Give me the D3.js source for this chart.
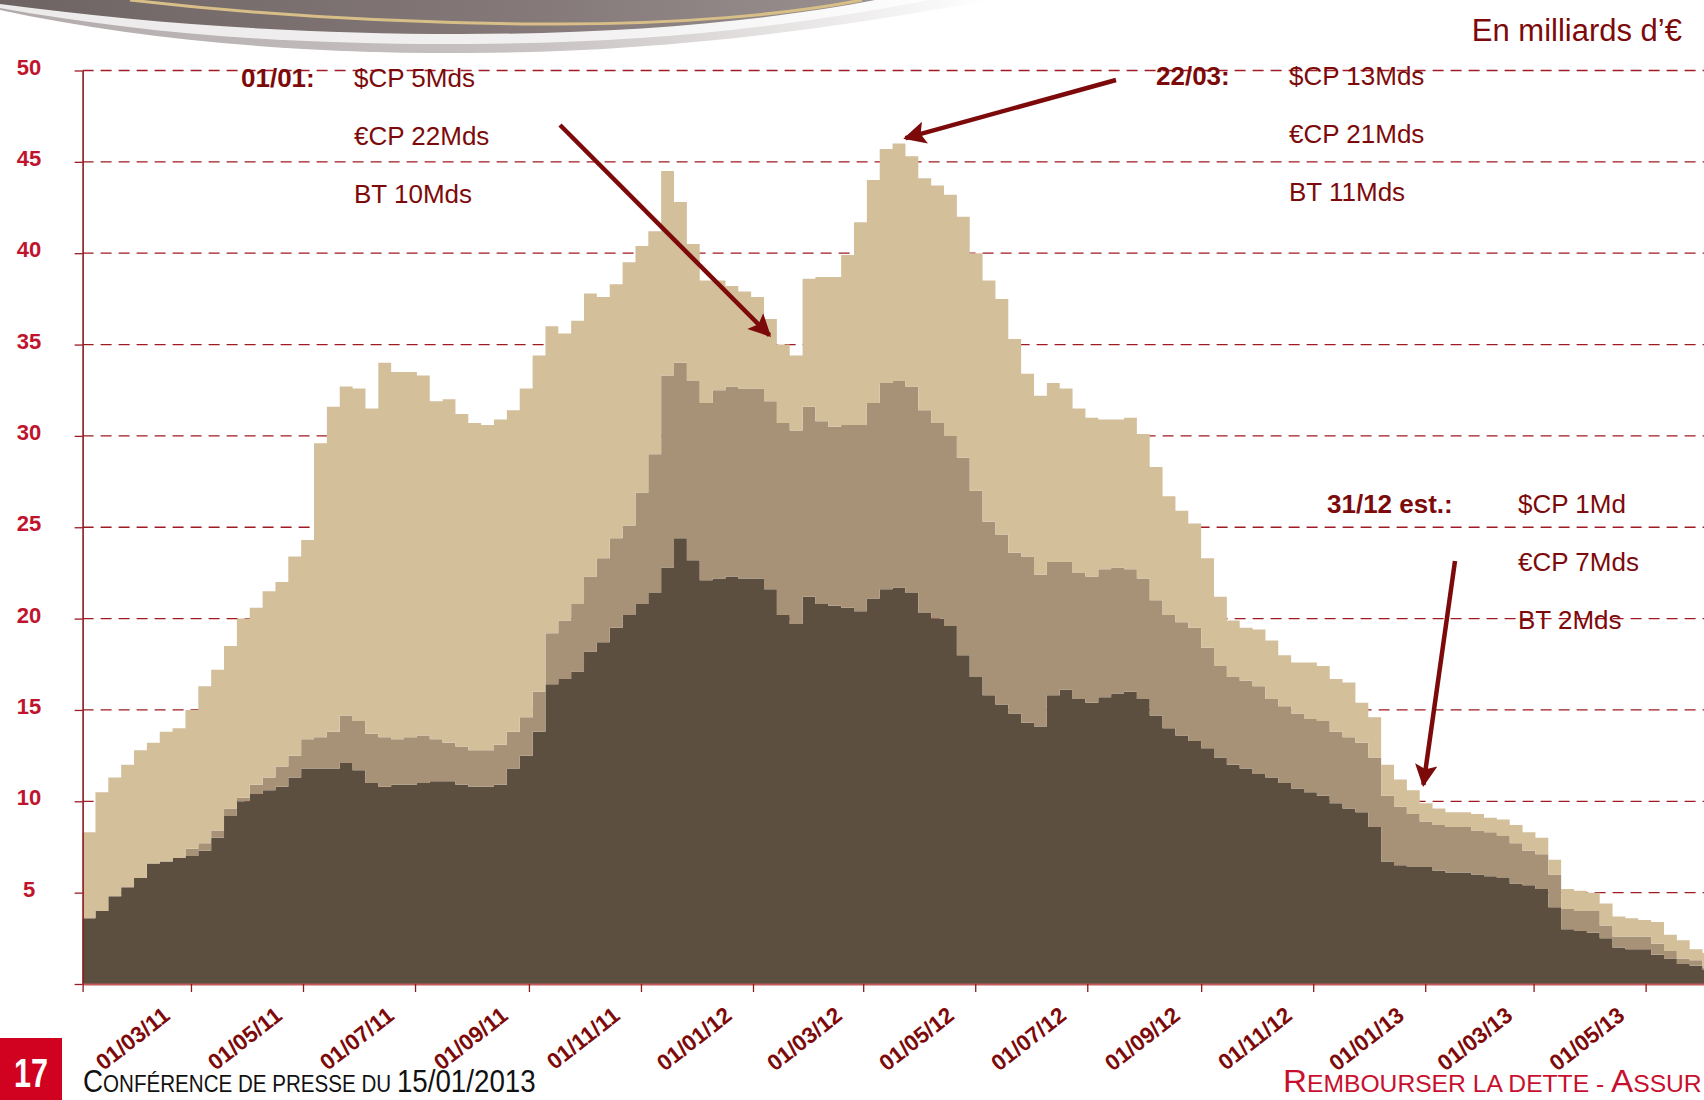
<!DOCTYPE html>
<html>
<head>
<meta charset="utf-8">
<script src="https://cdn.jsdelivr.net/npm/d3@7"></script>
<style>
  body { margin: 0; background: #fff; }
  svg { display: block; }
  text { font-family: "Liberation Sans", Arial, sans-serif; }
</style>
</head>
<body>
<svg id="chart" width="1704" height="1100"></svg>
<script>
// weekly outstanding amounts (billions of euros)
const weeks = [
  "2011-01-01","2011-01-08","2011-01-15","2011-01-22","2011-01-29","2011-02-05","2011-02-12","2011-02-19","2011-02-26","2011-03-05",
  "2011-03-12","2011-03-19","2011-03-26","2011-04-02","2011-04-09","2011-04-16","2011-04-23","2011-04-30","2011-05-07","2011-05-14",
  "2011-05-21","2011-05-28","2011-06-04","2011-06-11","2011-06-18","2011-06-25","2011-07-02","2011-07-09","2011-07-16","2011-07-23",
  "2011-07-30","2011-08-06","2011-08-13","2011-08-20","2011-08-27","2011-09-03","2011-09-10","2011-09-17","2011-09-24","2011-10-01",
  "2011-10-08","2011-10-15","2011-10-22","2011-10-29","2011-11-05","2011-11-12","2011-11-19","2011-11-26","2011-12-03","2011-12-10",
  "2011-12-17","2011-12-24","2011-12-31","2012-01-07","2012-01-14","2012-01-21","2012-01-28","2012-02-04","2012-02-11","2012-02-18",
  "2012-02-25","2012-03-03","2012-03-10","2012-03-17","2012-03-24","2012-03-31","2012-04-07","2012-04-14","2012-04-21","2012-04-28",
  "2012-05-05","2012-05-12","2012-05-19","2012-05-26","2012-06-02","2012-06-09","2012-06-16","2012-06-23","2012-06-30","2012-07-07",
  "2012-07-14","2012-07-21","2012-07-28","2012-08-04","2012-08-11","2012-08-18","2012-08-25","2012-09-01","2012-09-08","2012-09-15",
  "2012-09-22","2012-09-29","2012-10-06","2012-10-13","2012-10-20","2012-10-27","2012-11-03","2012-11-10","2012-11-17","2012-11-24",
  "2012-12-01","2012-12-08","2012-12-15","2012-12-22","2012-12-29","2013-01-05","2013-01-12","2013-01-19","2013-01-26","2013-02-02",
  "2013-02-09","2013-02-16","2013-02-23","2013-03-02","2013-03-09","2013-03-16","2013-03-23","2013-03-30","2013-04-06","2013-04-13",
  "2013-04-20","2013-04-27","2013-05-04","2013-05-11","2013-05-18","2013-05-25","2013-06-01"
];

// €CP (bottom layer)
const euroCP = [
  3.6,4.0,4.8,5.3,5.8,6.6,6.7,6.9,7.0,7.3,
  8.0,9.2,10.0,10.4,10.6,10.8,11.3,11.8,11.8,11.8,
  12.1,11.7,11.0,10.8,10.9,10.9,11.0,11.1,11.1,10.9,
  10.8,10.8,10.9,11.8,12.5,13.8,16.4,16.7,17.1,18.2,
  18.7,19.5,20.2,20.8,21.4,22.8,24.4,23.2,22.1,22.2,
  22.3,22.2,22.2,21.6,20.2,19.7,21.2,20.8,20.7,20.6,
  20.4,21.1,21.6,21.7,21.4,20.3,20.0,19.6,18.0,16.8,
  15.8,15.3,14.8,14.3,14.1,15.8,16.1,15.6,15.4,15.7,
  15.9,16.0,15.6,14.7,14.0,13.6,13.3,12.9,12.4,12.0,
  11.8,11.5,11.3,11.0,10.7,10.5,10.3,9.9,9.6,9.4,
  8.6,6.7,6.5,6.4,6.4,6.2,6.1,6.1,6.0,5.9,
  5.8,5.5,5.4,5.2,4.2,3.0,2.9,2.8,2.5,2.0,
  1.9,1.9,1.6,1.4,1.1,1.0,0.8
];

// BT (middle layer)
const bt = [
  0,0,0,0,0,0,0,0,0.4,0.4,
  0.4,0.4,0.2,0.5,0.7,1.1,1.2,1.6,1.7,2.0,
  2.6,2.7,2.7,2.7,2.5,2.6,2.6,2.3,2.1,2.1,
  2.0,2.0,2.2,2.0,2.1,2.2,2.8,3.2,3.7,4.1,
  4.6,4.9,4.9,6.1,7.6,10.5,9.6,9.8,9.7,10.3,
  10.4,10.4,10.4,10.3,10.5,10.6,10.4,10.0,9.8,10.0,
  10.2,10.7,11.3,11.3,11.3,11.1,10.7,10.4,10.8,10.2,
  9.5,9.3,8.8,9.1,8.3,7.3,7.0,6.9,6.9,7.0,
  6.9,6.7,6.6,6.3,6.2,6.2,6.2,5.5,5.0,4.8,
  4.8,4.8,4.3,4.2,4.1,4.0,4.1,3.9,3.9,3.8,
  3.8,3.6,3.2,2.9,2.5,2.5,2.5,2.5,2.4,2.4,
  2.3,2.2,1.9,1.9,1.8,1.1,1.1,1.2,0.7,0.6,
  0.7,0.7,0.6,0.4,0.3,0.3,0.1
];

// $CP (top layer)
const usdCP = [
  4.7,6.5,6.5,6.7,7.0,6.6,7.1,7.1,7.6,8.6,
  8.8,8.9,9.8,9.7,10.2,10.1,10.9,10.9,16.1,17.8,
  18.0,18.2,17.8,20.5,20.1,20.0,19.7,18.5,18.8,18.2,
  17.9,17.8,17.8,17.6,18.0,18.4,16.8,15.7,15.5,15.5,
  14.3,13.9,14.4,13.5,12.2,11.2,8.8,7.5,6.7,6.0,
  5.5,5.3,5.0,4.5,4.3,4.1,7.0,7.9,8.2,9.3,
  11.1,12.2,12.8,13.0,12.6,12.7,13.0,13.2,13.2,13.0,
  13.2,12.9,11.7,10.0,9.8,9.8,9.5,9.0,8.7,8.2,
  8.1,8.3,7.9,7.3,6.5,6.1,5.7,4.9,3.8,3.1,
  2.9,3.1,3.2,2.8,2.8,3.1,3.0,2.9,3.0,2.2,
  2.2,1.7,1.5,1.3,1.0,0.9,0.8,0.8,0.9,0.8,
  0.9,1.0,1.0,0.9,0.8,1.1,1.1,1.0,1.2,1.1,
  1.0,0.9,1.2,0.9,1.0,0.6,0.8
];

const yTicks = [5, 10, 15, 20, 25, 30, 35, 40, 45, 50];
const xTicks = ["2011-01-01","2011-03-01","2011-05-01","2011-07-01","2011-09-01","2011-11-01",
                "2012-01-01","2012-03-01","2012-05-01","2012-07-01","2012-09-01","2012-11-01",
                "2013-01-01","2013-03-01","2013-05-01"];

// annotation texts
const noteJan = ["$CP 5Mds", "€CP 22Mds", "BT 10Mds"];
const noteMar = ["$CP 13Mds", "€CP 21Mds", "BT 11Mds"];
const noteDec = ["$CP 1Md", "€CP 7Mds", "BT 2Mds"];

// layout constants
const W = 1704, H = 1100;
const plotLeft = 82.6, plotRight = 1704.4, plotTop = 70.5, plotBottom = 984;
const maroon = "#7d0a0a";

const parse = d3.utcParse("%Y-%m-%d");
const fmt = d3.utcFormat("%d/%m/%y");

const rows = weeks.map((w, i) => ({ date: parse(w), euroCP: euroCP[i], bt: bt[i], usdCP: usdCP[i] }));
// repeat last week so the step reaches the right edge
rows.push(Object.assign({}, rows[rows.length - 1], { date: parse("2013-06-02") }));

const x = d3.scaleUtc()
  .domain([parse("2011-01-01"), parse("2013-06-02")])
  .range([plotLeft, plotRight]);

const y = d3.scaleLinear()
  .domain([0, 50])
  .range([plotBottom, plotTop]);

const svg = d3.select("#chart");

// top decoration swoosh
const defs = svg.append("defs");
const g1 = defs.append("linearGradient").attr("id", "band");
g1.append("stop").attr("offset", "0%").attr("stop-color", "#6f6464");
g1.append("stop").attr("offset", "60%").attr("stop-color", "#847878");
g1.append("stop").attr("offset", "100%").attr("stop-color", "#9a9090");
const g2 = defs.append("linearGradient").attr("id", "shade");
g2.append("stop").attr("offset", "0%").attr("stop-color", "#b3abab");
g2.append("stop").attr("offset", "55%").attr("stop-color", "#c9c3c3");
g2.append("stop").attr("offset", "100%").attr("stop-color", "#ffffff");

svg.append("path")
  .attr("d", "M0,0 L0,10 C140,40 300,54 470,53 C640,52 800,35 990,0 Z")
  .attr("fill", "url(#shade)");
svg.append("path")
  .attr("d", "M0,0 L0,8 C150,35 300,45 470,44 C640,43 780,29 930,0 Z")
  .attr("fill", "#ffffff").attr("opacity", 0.75);
svg.append("path")
  .attr("d", "M0,0 L0,4 C150,24 300,34 460,34 C620,34 760,22 875,0 Z")
  .attr("fill", "url(#band)");
svg.append("path")
  .attr("d", "M130,0 C250,14 390,23 540,24 C680,25 790,14 862,0")
  .attr("fill", "none").attr("stroke", "#d8bf88").attr("stroke-width", 3);

// unit label
svg.append("text")
  .attr("x", 1682).attr("y", 41)
  .attr("text-anchor", "end")
  .attr("fill", maroon)
  .style("font-size", "31px")
  .text("En milliards d’€");

// gridlines
svg.append("g")
  .selectAll("line")
  .data(yTicks)
  .join("line")
  .attr("x1", plotLeft).attr("x2", W)
  .attr("y1", d => y(d)).attr("y2", d => y(d))
  .attr("stroke", "#9e1b24")
  .attr("stroke-width", 1.3)
  .attr("stroke-dasharray", "11,7");

// stacked areas
const stack = d3.stack().keys(["euroCP", "bt", "usdCP"]);
const series = stack(rows);
const colors = { euroCP: "#5c4f3f", bt: "#a89277", usdCP: "#d4bf9b" };

const area = d3.area()
  .curve(d3.curveStepAfter)
  .x(d => x(d.data.date))
  .y0(d => y(d[0]))
  .y1(d => y(d[1]));

svg.append("g")
  .selectAll("path")
  .data(series)
  .join("path")
  .attr("fill", d => colors[d.key])
  .attr("d", area);

// y axis
const yAxis = d3.axisLeft(y).tickValues([0].concat(yTicks)).tickSize(8).tickSizeOuter(0).tickFormat("");
const gy = svg.append("g")
  .attr("transform", `translate(${plotLeft},0)`)
  .call(yAxis);
gy.select(".domain").attr("stroke", "#8b1a1a").attr("stroke-width", 1.6);
gy.selectAll(".tick line").attr("stroke", "#9e1b24").attr("stroke-width", 1.3);

svg.append("g")
  .selectAll("text")
  .data(yTicks)
  .join("text")
  .attr("x", 29)
  .attr("y", d => y(d) + 4)
  .attr("text-anchor", "middle")
  .attr("fill", "#c0142e")
  .style("font-size", "22px")
  .style("font-weight", "bold")
  .text(d => d);

// footer box and titles, squeezed to the narrow width of the slide font
function fitText(sel, x0, y0, width) {
  const w = sel.node().getComputedTextLength();
  sel.attr("transform", `translate(${x0},${y0}) scale(${width / w},1)`);
}

svg.append("rect")
  .attr("x", 0).attr("y", 1038).attr("width", 62).attr("height", 62)
  .attr("fill", "#d1021f");
const num = svg.append("text")
  .attr("fill", "#fff")
  .style("font-size", "40px").style("font-weight", "bold")
  .text("17");
fitText(num, 14, 1087, 34);

const conf = svg.append("text").attr("fill", "#111");
conf.append("tspan").style("font-size", "31px").text("C");
conf.append("tspan").style("font-size", "23px").text("ONFÉRENCE DE PRESSE DU ");
conf.append("tspan").style("font-size", "31px").text("15/01/2013");
fitText(conf, 83, 1092, 453);

const remb = svg.append("text").attr("fill", "#c8102e");
remb.append("tspan").style("font-size", "31px").text("R");
remb.append("tspan").style("font-size", "23px").text("EMBOURSER LA DETTE - ");
remb.append("tspan").style("font-size", "31px").text("A");
remb.append("tspan").style("font-size", "23px").text("SSUR");
fitText(remb, 1283, 1092, 419);

// x axis
const xAxis = d3.axisBottom(x)
  .tickValues(xTicks.map(parse))
  .tickSize(8)
  .tickSizeOuter(0)
  .tickFormat((d, i) => i === 0 ? "" : fmt(d));

const gx = svg.append("g")
  .attr("transform", `translate(0,${plotBottom})`)
  .call(xAxis);
gx.select(".domain").attr("stroke", "#c45a5a").attr("stroke-width", 2);
gx.selectAll(".tick line").attr("stroke", "#8b1a1a").attr("stroke-width", 1.3);
gx.selectAll(".tick text")
  .attr("x", 0).attr("y", 0).attr("dy", null)
  .attr("transform", "translate(-20,34) rotate(-38)")
  .attr("text-anchor", "end")
  .attr("fill", maroon)
  .style("font-size", "22.5px")
  .style("font-weight", "bold")
  .style("font-family", "'Liberation Sans', Arial, sans-serif");

// annotations
function note(xLabel, xText, yBase, label, lines) {
  svg.append("text")
    .attr("x", xLabel).attr("y", yBase)
    .attr("fill", maroon)
    .style("font-size", "26px").style("font-weight", "bold")
    .text(label);
  svg.append("g")
    .selectAll("text")
    .data(lines)
    .join("text")
    .attr("x", xText)
    .attr("y", (d, i) => yBase + i * 58)
    .attr("fill", maroon)
    .style("font-size", "26px")
    .text(d => d);
}
note(241, 354, 87, "01/01:", noteJan);
note(1156, 1289, 85, "22/03:", noteMar);
note(1327, 1518, 513, "31/12 est.:", noteDec);

// arrows (tail in page space, tip on the data)
const marker = defs.append("marker")
  .attr("id", "head")
  .attr("viewBox", "0 0 10 10")
  .attr("refX", 9).attr("refY", 5)
  .attr("markerWidth", 6).attr("markerHeight", 5)
  .attr("markerUnits", "strokeWidth")
  .attr("orient", "auto");
marker.append("path").attr("d", "M0,0 L10,5 L0,10 L2,5 Z").attr("fill", maroon);

const arrows = [
  [[560, 125], [x(parse("2012-01-10")), y(35.5)]],
  [[1116, 80], [x(parse("2012-03-24")), y(46.3)]],
  [[1455, 561], [x(parse("2012-12-31")), y(10.9)]]
];
svg.append("g")
  .selectAll("line")
  .data(arrows)
  .join("line")
  .attr("x1", d => d[0][0]).attr("y1", d => d[0][1])
  .attr("x2", d => d[1][0]).attr("y2", d => d[1][1])
  .attr("stroke", maroon)
  .attr("stroke-width", 4.5)
  .attr("marker-end", "url(#head)");
</script>
</body>
</html>
